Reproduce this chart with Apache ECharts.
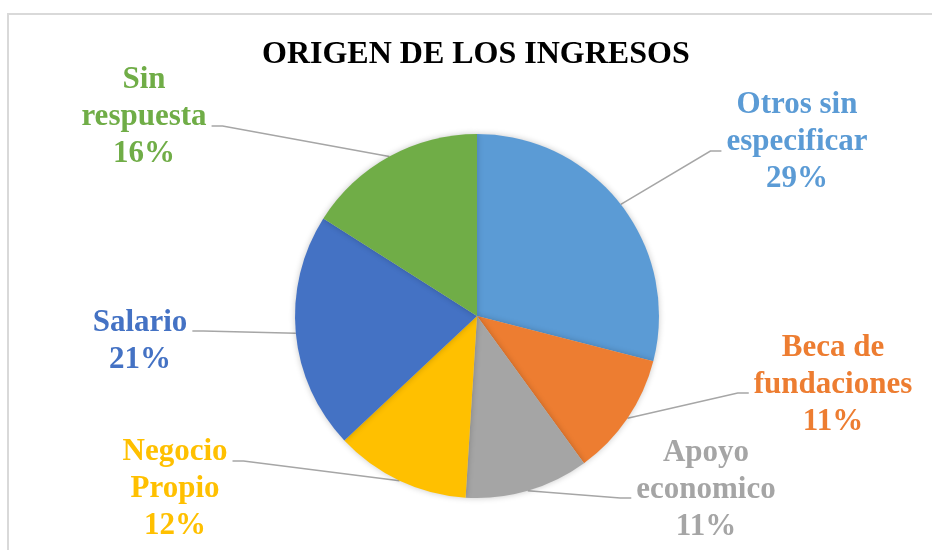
<!DOCTYPE html>
<html>
<head>
<meta charset="utf-8">
<script src="https://cdn.jsdelivr.net/npm/echarts@6/dist/echarts.min.js"></script>
<style>
  html, body { margin: 0; padding: 0; background: #fff; }
  #main { width: 932px; height: 550px; }
</style>
</head>
<body>
<div id="main"></div>
<script>
// datos del gráfico
var categories = ['Otros sin especificar', 'Beca de fundaciones', 'Apoyo economico', 'Negocio Propio', 'Salario', 'Sin respuesta'];
var labelNames = ['Otros sin\nespecificar', 'Beca de\nfundaciones', 'Apoyo\neconomico', 'Negocio\nPropio', 'Salario', 'Sin\nrespuesta'];
var values = [29, 11, 11, 12, 21, 16];
var colors = ['#5B9BD5', '#ED7D31', '#A5A5A5', '#FFC000', '#4472C4', '#70AD47'];

// posicion de etiquetas: centro x, centro y, altura de la linea guia
var labelPos = [
  [797, 142, 151],
  [833, 385, 393],
  [706, 490, 498],
  [175, 489, 461],
  [140, 341, 331],
  [144, 117, 126]
];
var pieCenter = [477, 316];
var serif = '"Liberation Serif", "Times New Roman", serif';

var chart = echarts.init(document.getElementById('main'), null, { renderer: 'canvas' });

var data = [];
for (var i = 0; i < values.length; i++) {
  data.push({
    name: categories[i],
    value: values[i],
    itemStyle: { color: colors[i] },
    label: { color: colors[i] }
  });
}

var option = {
  animation: false,
  backgroundColor: '#fff',
  title: {
    text: 'ORIGEN DE LOS INGRESOS',
    left: 257,
    top: 34,
    textStyle: {
      fontFamily: serif,
      fontWeight: 'bold',
      fontSize: 32,
      color: '#000'
    }
  },
  graphic: [{
    type: 'rect',
    silent: true,
    z: -1,
    shape: { x: 8, y: 14, width: 1000, height: 1000 },
    style: { fill: null, stroke: '#d9d9d9', lineWidth: 2 }
  }],
  series: [{
    type: 'pie',
    center: pieCenter,
    radius: 182,
    startAngle: 90,
    clockwise: true,
    avoidLabelOverlap: false,
    data: data,
    itemStyle: {
      borderWidth: 0,
      shadowBlur: 6,
      shadowColor: 'rgba(0,0,0,0.22)'
    },
    label: {
      show: true,
      position: 'outside',
      overflow: 'none',
      fontFamily: serif,
      fontWeight: 'bold',
      fontSize: 31,
      lineHeight: 37,
      align: 'center',
      formatter: function (p) {
        return labelNames[p.dataIndex] + '\n' + p.percent + '%';
      }
    },
    labelLine: {
      show: true,
      length: 20,
      length2: 10,
      lineStyle: { color: '#a6a6a6', width: 1.5 }
    },
    labelLayout: function (params) {
      var p = labelPos[params.dataIndex];
      var w = params.labelRect.width;
      var right = p[0] > pieCenter[0];
      var endX = right ? p[0] - w / 2 - 5 : p[0] + w / 2 + 5;
      var bendX = right ? endX - 11 : endX + 11;
      var res = { x: p[0], y: p[1], align: 'center', verticalAlign: 'middle' };
      if (params.labelLinePoints) {
        res.labelLinePoints = [params.labelLinePoints[0], [bendX, p[2]], [endX, p[2]]];
      }
      return res;
    }
  }]
};
chart.setOption(option);
</script>
</body>
</html>
